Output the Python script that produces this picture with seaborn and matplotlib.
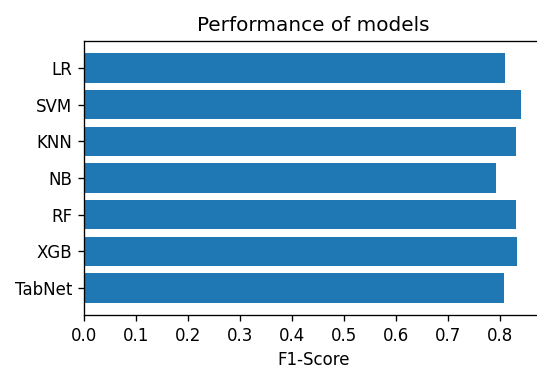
import matplotlib
matplotlib.use("Agg")
import matplotlib.pyplot as plt
import seaborn as sns
import pandas as pd

models = ["LR", "SVM", "KNN", "NB", "RF", "XGB", "TabNet"]
f1_scores = [0.810, 0.840, 0.831, 0.792, 0.831, 0.833, 0.808]

df = pd.DataFrame({"model": models, "f1": f1_scores})

dpi = 120
fig = plt.figure(figsize=(537 / dpi, 368 / dpi), dpi=dpi)
ax = fig.add_axes([0.1564, 0.144, 0.854, 0.745])

sns.barplot(data=df, x="f1", y="model", orient="h", color="#1f77b4",
            saturation=1, width=0.8, linewidth=0, ax=ax)

n = len(models)
pad = 0.05 * (n - 1 + 0.8)
ax.set_ylim(n - 1 + 0.4 + pad, -0.4 - pad)
ax.set_xlim(0, max(f1_scores) * 1.05)
ax.set_xticks([0.0, 0.1, 0.2, 0.3, 0.4, 0.5, 0.6, 0.7, 0.8])
ax.set_ylabel("")
ax.set_xlabel("F1-Score")
ax.set_title("Performance of models")

fig.savefig("out.png", dpi=dpi)
